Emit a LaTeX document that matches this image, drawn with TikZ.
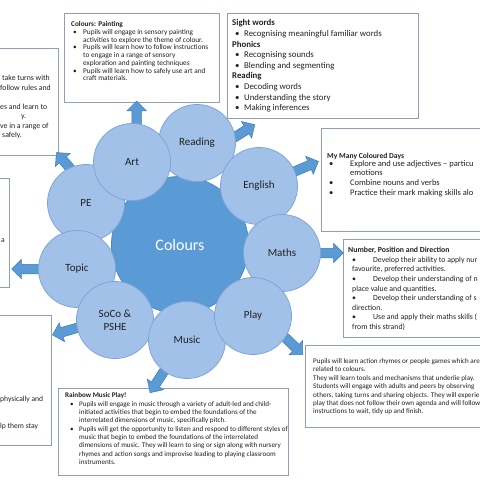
\documentclass[tikz,border=0pt]{standalone}
\usepackage{fontspec}
\setmainfont{Carlito}
\usetikzlibrary{shapes.arrows,positioning,calc,fit}
\pgfdeclarelayer{panels}
\pgfdeclarelayer{arrows}
\pgfsetlayers{panels,arrows,main}
\definecolor{hubc}{HTML}{5B9BD5}
\definecolor{hubl}{HTML}{4A89C4}
\definecolor{satc}{HTML}{A2C1E8}
\definecolor{satl}{HTML}{7FA5D7}
\definecolor{arrc}{HTML}{5B9BD5}
\definecolor{arrl}{HTML}{4179B2}
\definecolor{panl}{HTML}{8E9FB7}
\definecolor{ink}{HTML}{222222}
\newlength\bpre
\newlength\bind
\newcommand{\bi}{\hspace*{\bpre}\makebox[\bind][l]{\textbullet}}
\newcommand{\ci}{\hspace*{\bpre}\hspace*{\bind}}
\newcommand{\bk}{\hspace*{\bpre}}
\tikzset{
  hub/.style={circle, fill=hubc, draw=hubl, line width=0.8pt, minimum size=137pt, inner sep=0pt, text=white, font=\fontsize{16}{18}\selectfont},
  sat/.style={circle, fill=satc, draw=satl, line width=0.8pt, minimum size=77pt, inner sep=0pt, text=ink, align=center, font=\fontsize{11}{13}\selectfont},
  barrow/.style={single arrow, fill=arrc, draw=arrl, line width=0.5pt, inner xsep=0pt, inner ysep=4.5pt, single arrow head extend=5pt, anchor=tail},
  panel/.style={fill=white, draw=panl, line width=0.7pt, inner sep=0pt},
  txt/.style={anchor=north west, inner sep=0pt, align=left, text=ink},
}

\begin{document}
\begin{tikzpicture}[x=1pt, y=-1pt]
  \useasboundingbox (0,0) rectangle (480,480);
  \clip (0,0) rectangle (480,480);
  \begin{pgfonlayer}{panels}
    \fill[white] (0,0) rectangle (480,480);
    \foreach \nm/\xa/\ya/\xb/\yb in {pebox/-5/48/58/155, paintbox/64/13/219/102,
        sightbox/227/13/418/118, daysbox/321/128/485/231, numbox/343/239/485/337,
        playbox/305/345/485/427, musicbox/58/388/288/475, socobox/-5/315/51/445,
        topicbox/-5/178/9/287}
      \node[panel, fit={(\xa,\ya) (\xb,\yb)}] (\nm) {};
  \end{pgfonlayer}

  \node[hub] (hub) at (180,245) {Colours};
  \foreach \nm/\px/\py/\lbl in {reading/197/143/Reading, english/259/186/English,
      maths/282/253/Maths, pe/86/203/PE, topic/77/269/Topic, soco/115/320/{SoCo \&\\PSHE},
      music/187/340/Music, play/253/316/Play, art/132/162/Art}
    \node[sat] (\nm) at (\px,\py) {\lbl};

  \begin{pgfonlayer}{arrows}
    \foreach \nm/\at/\rot/\len in {art/82/90/28pt, reading/5/32/29pt, english/22/23/31pt,
        maths/0/0/28pt, play/-32/-44/30pt, music/233/237/31pt, soco/191/196/31pt,
        topic/180/180/32pt, pe/112/131/26pt}
      \node[barrow, minimum height=\len, rotate=\rot] (a\nm) at ($(\nm.center)!0.85!(\nm.\at)$) {};
  \end{pgfonlayer}

  \node[txt, font=\fontsize{7.8}{9.5}\selectfont] (petxt) at (0,75)
    {\hspace*{2pt}take turns with\\follow rules and\\ \\es and learn to\\\hspace*{21pt}y.\\ve in a range of\\\hspace*{2pt}safely.};

  \setlength\bpre{2pt}\setlength\bind{10pt}
  \node[txt, font=\fontsize{7.3}{7.7}\selectfont] (painttxt) at (71,21.5)
    {\textbf{Colours: Painting}\\
     \bi Pupils will engage in sensory painting\\
     \ci activities to explore the theme of colour.\\
     \bi Pupils will learn how to follow instructions\\
     \ci to engage in a range of sensory\\
     \ci exploration and painting techniques\\
     \bi Pupils will learn how to safely use art and\\
     \ci craft materials.};

  \setlength\bpre{3pt}\setlength\bind{9pt}
  \node[txt, font=\fontsize{8.8}{10.6}\selectfont] (sighttxt) at (232,19.5)
    {\textbf{Sight words}\\
     \bi Recognising meaningful familiar words\\
     \textbf{Phonics}\\
     \bi Recognising sounds\\
     \bi Blending and segmenting\\
     \textbf{Reading}\\
     \bi Decoding words\\
     \bi Understanding the story\\
     \bi Making inferences};

  \setlength\bpre{2pt}\setlength\bind{21pt}
  \node[txt, font=\fontsize{8.5}{8.6}\selectfont] (daystxt) at (327,152.5)
    {{\fontsize{7.6}{8.6}\selectfont\textbf{My Many Coloured Days}}\\
     \bi Explore and use adjectives -- particu\\
     \ci emotions\\[2pt]
     \bi Combine nouns and verbs\\[1pt]
     \bi Practice their mark making skills alo};

  \setlength\bpre{4pt}\setlength\bind{21pt}
  \node[txt, font=\fontsize{7.8}{9.6}\selectfont] (numtxt) at (348,247)
    {\textbf{Number, Position and Direction}\\
     \bi Develop their ability to apply nur\\
     \bk favourite, preferred activities.\\
     \bi Develop their understanding of n\\
     \bk place value and quantities.\\
     \bi Develop their understanding of s\\
     \bk direction.\\
     \bi Use and apply their maths skills (\\
     \bk from this strand)};

  \node[txt, font=\fontsize{7.1}{8.35}\selectfont] (playtxt) at (313,358.5)
    {Pupils will learn action rhymes or people games which are\\
     related to colours.\\
     They will learn tools and mechanisms that underlie play.\\
     Students will engage with adults and peers by observing\\
     others, taking turns and sharing objects. They will experie\\
     play that does not follow their own agenda and will follow\\
     instructions to wait, tidy up and finish.};

  \setlength\bpre{5pt}\setlength\bind{9pt}
  \node[txt, font=\fontsize{7.1}{8.35}\selectfont] (musictxt) at (65,392.5)
    {\textbf{Rainbow Music Play!}\\
     \bi Pupils will engage in music through a variety of adult-led and child-\\
     \ci initiated activities that begin to embed the foundations of the\\
     \ci interrelated dimensions of music, specifically pitch.\\
     \bi Pupils will get the opportunity to listen and respond to different styles of\\
     \ci music that begin to embed the foundations of the interrelated\\
     \ci dimensions of music. They will learn to sing or sign along with nursery\\
     \ci rhymes and action songs and improvise leading to playing classroom\\
     \ci instruments.};

  \node[txt, font=\fontsize{7.6}{9.2}\selectfont] (socotxt) at (0,396)
    {physically and\\[18pt]lp them stay};
  \node[txt, font=\fontsize{7.6}{9.2}\selectfont] (topictxt) at (1,239) {a};
\end{tikzpicture}
\end{document}
